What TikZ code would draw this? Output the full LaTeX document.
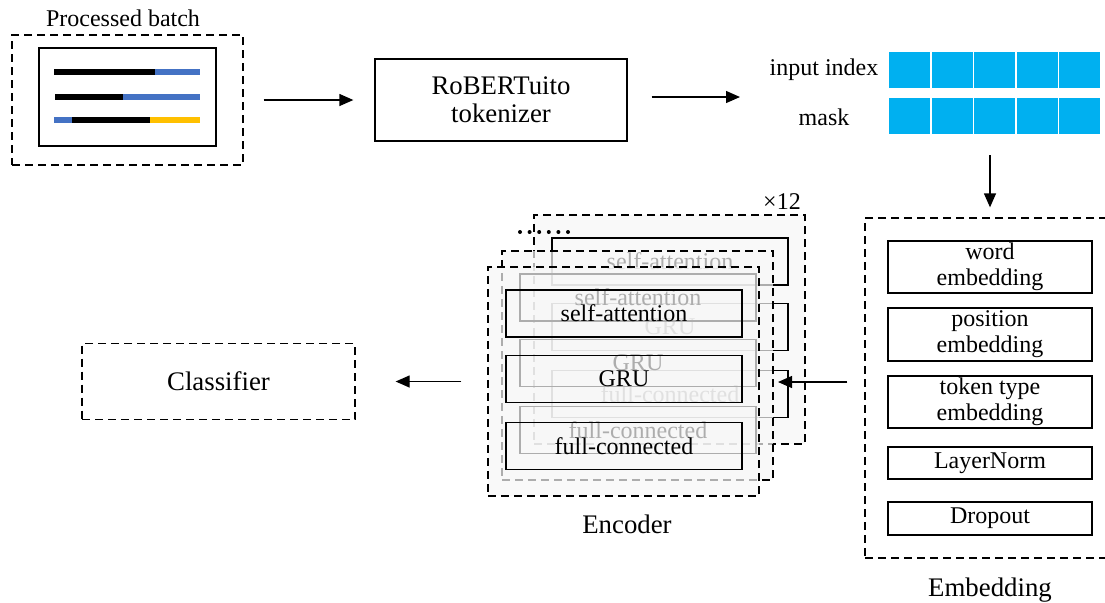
\documentclass[tikz,border=0pt]{standalone}
\usepackage{fontspec}
\setmainfont{Liberation Serif}
\usetikzlibrary{arrows.meta,matrix}
\definecolor{barblue}{HTML}{4472C4}
\definecolor{baryellow}{HTML}{FFC000}
\definecolor{cellblue}{HTML}{00B0F0}
\newcommand{\fbig}{\fontsize{13.4}{14}\selectfont}
\newcommand{\fsmall}{\fontsize{12}{13}\selectfont}
% one encoder layer, #1 shift, #2 name suffix
\newcommand{\enclayer}[2]{%
	\begin{scope}[shift={#1}]
		\node[layer] (layer#2) at (623.5,381.5) {};
		\node[unit] (sa#2) at (624,313.5) {self-attention};
		\node[unit] (gru#2) at (624,379) {GRU};
		\node[unit] (fc#2) at (624,446) {full-connected};
	\end{scope}}

\begin{document}
\begin{tikzpicture}[x=0.5pt,y=-0.5pt,
	dsh/.style={dash pattern=on 4pt off 2.5pt},
	box/.style={draw,line width=0.65pt,inner sep=0pt,align=center},
	emb box/.style={box,minimum width=102pt,font=\fsmall},
	unit/.style={draw,line width=0.75pt,inner sep=0pt,minimum width=118pt,minimum height=23.5pt,font=\fsmall},
	layer/.style={draw,dsh,line width=0.65pt,fill=black!3,fill opacity=0.7,text opacity=1,minimum width=135.5pt,minimum height=114.5pt},
	bar/.style={line width=3pt},
	arr/.style={-{Triangle[length=7pt,width=6pt]},line width=0.65pt}]
	\useasboundingbox (0,0) rectangle (1105,602);

	% processed batch
	\node[font=\fsmall] (title) at (123,18) {Processed batch};
	\node[box,dsh,minimum width=115.5pt,minimum height=65pt] (batch) at (127.5,100) {};
	\node[box,line width=1pt,minimum width=88.5pt,minimum height=49pt] (sheet) at (127.5,97) {};
	\draw[bar] (54,72) -- (155,72);
	\draw[bar,barblue] (155,72) -- (200,72);
	\draw[bar] (55,97) -- (123,97);
	\draw[bar,barblue] (123,97) -- (200,97);
	\draw[bar,barblue] (54,120) -- (72,120);
	\draw[bar] (72,120) -- (150,120);
	\draw[bar,baryellow] (150,120) -- (200,120);

	\node[box,minimum width=126pt,minimum height=41pt,font=\fbig] (tok) at (501,100) {RoBERTuito\\tokenizer};
	\coordinate (tokout) at (740,97);

	\matrix (cells) [matrix of nodes,nodes in empty cells,column sep=0.75pt,row sep=5pt,
		nodes={fill=cellblue,minimum width=20.5pt,minimum height=18pt,inner sep=0pt}] at (994.5,93)
	{
		&&&&\\
		&&&&\\};
	\node[font=\fsmall] (idx) at (824,70) {input index};
	\node[font=\fsmall] (msk) at (824,117) {mask};

	% embedding
	\node[box,dsh,minimum width=125pt,minimum height=170pt] (emb) at (990,388) {};
	\node[emb box,minimum height=26pt] (word) at (990,267) {word\\embedding};
	\node[emb box,minimum height=26.5pt] (pos) at (990,334.5) {position\\embedding};
	\node[emb box,minimum height=26pt] (type) at (990,402) {token type\\embedding};
	\node[emb box,minimum height=16pt] (norm) at (990,463) {LayerNorm};
	\node[emb box,minimum height=16.5pt] (drop) at (990,518.5) {Dropout};
	\node[font=\fbig] (embl) at (990,590) {Embedding};

	% encoder stack
	\enclayer{(46,-52)}{3}
	\draw[line width=2pt,line cap=round,dash pattern=on 0pt off 4.8pt] (520,232) -- (570,232);
	\enclayer{(14,-16)}{2}
	\enclayer{(0,0)}{1}
	\node[font=\fsmall] (times) at (782,202) {×12};
	\node[font=\fbig] (encl) at (627,524) {Encoder};
	\coordinate (encin) at (778,382);

	\node[box,dsh,minimum width=136.5pt,minimum height=38pt,font=\fbig] (cls) at (218.5,381.5) {Classifier};

	\path[arr]
	(batch) edge[shorten <=10pt,shorten >=10.5pt] (tok)
	(layer1) edge[shorten <=13pt,shorten >=20pt] (cls);
	\draw[arr,shorten <=12pt] (tok.east |- tokout) -- (tokout);
	\draw[arr,shorten <=7pt,shorten >=5pt] (cells.south -| word) -- (emb.north -| word);
	\draw[arr,shorten <=8.5pt] (emb.west |- encin) -- (encin);
\end{tikzpicture}
\end{document}
